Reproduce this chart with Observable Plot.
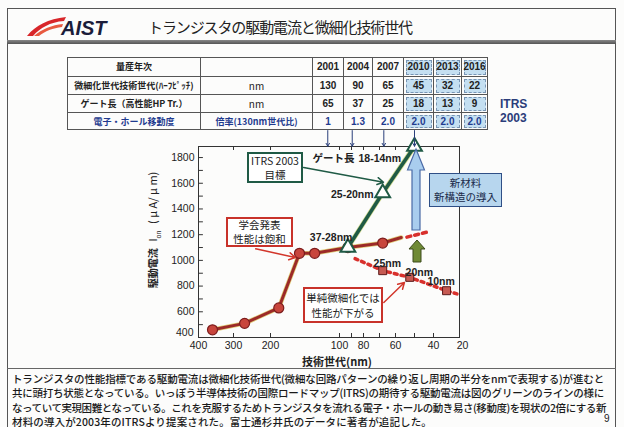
<!DOCTYPE html>
<html><head><meta charset="utf-8">
<script src="https://cdn.jsdelivr.net/npm/d3@7"></script>
<script src="https://cdn.jsdelivr.net/npm/@observablehq/plot@0.6"></script>
<style>
body{margin:0;background:#fcfcfb;}
#page{position:relative;width:624px;height:427px;overflow:hidden;background:#fcfcfb;font-family:"Noto Sans CJK JP","Noto Sans",sans-serif;color:#222;}
.abs{position:absolute;}
.box{position:absolute;box-sizing:border-box;background:#fff;display:flex;align-items:center;justify-content:center;text-align:center;font-size:10.5px;line-height:14px;color:#222;}
.cell{position:absolute;box-sizing:border-box;border-left:1px solid #555;border-top:1px solid #555;display:flex;align-items:center;justify-content:center;white-space:nowrap;}
.cell span{display:inline-block;}
.shade{position:absolute;left:2px;top:2px;right:1px;bottom:1px;background:#c4dff1;border:1px dashed #7895b4;}
.num{font-family:"Liberation Sans",Arial,sans-serif;font-weight:bold;font-size:10px;position:relative;}
.lab{font-family:"Noto Sans CJK JP",sans-serif;font-weight:bold;font-size:9px;}
.cap{position:absolute;left:12px;white-space:nowrap;font-size:10.5px;line-height:11px;color:#1a1a1a;font-weight:500;}
</style></head>
<body><div id="page">
  <div class="abs" style="left:7px;top:8px;width:607px;height:418px;border:1.5px solid #555;"></div>
  <div class="abs" style="left:7px;top:40px;width:609px;height:4px;background:linear-gradient(#888,#555);"></div>
  <svg class="abs" style="left:0;top:0" width="130" height="45">
    <path d="M27,36 C36,25 48,19 66,17 L64,21 C50,22 40,28 33,36 Z" fill="#d8262a"/>
    <path d="M34,36 C42,29 52,25 63,24 L62,27 C53,28 45,31 39,36 Z" fill="#e85a40"/>
    <text x="61" y="35" font-family="Liberation Sans, Arial, sans-serif" font-weight="bold" font-style="italic" font-size="20" fill="#1b1d3a">AIST</text>
  </svg>
  <div id="title" class="abs" style="left:148px;top:16px;font-size:15px;white-space:nowrap;color:#222;">トランジスタの駆動電流と微細化技術世代</div>
  <div id="table"></div>
  <div class="abs" style="left:500px;top:97px;font-family:'Liberation Sans',Arial,sans-serif;font-weight:bold;font-size:12px;line-height:14px;color:#2b3d7a;">ITRS<br>2003</div>
  <div id="plot" class="abs" style="left:0;top:0;"></div>
  <svg class="abs" style="left:0;top:0" width="624" height="427">
    <polygon points="412,230 412,170 407.5,170 416,149 424.5,170 420,170 420,230" fill="#a9cdee" stroke="#4a6aa6" stroke-width="1.2"/>
    <polygon points="413,262 413,249 409,249 417,240 425,249 421,249 421,262" fill="#6f8a35" stroke="#3c4b1c" stroke-width="1"/>
  </svg>
  <div class="box" style="left:247px;top:152px;width:56px;height:31px;border:2px solid #1f5a45;">ITRS 2003<br>目標</div>
  <div class="box" style="left:226px;top:217px;width:67px;height:30px;border:2px solid #c8322a;">学会発表<br>性能は飽和</div>
  <div class="box" style="left:303px;top:287px;width:80px;height:36px;border:2px solid #c8322a;line-height:15px;">単純微細化では<br>性能が下がる</div>
  <div class="box" style="left:429px;top:173px;width:73px;height:34px;border:1.5px solid #2f4f86;background:#b7d6ee;color:#1a2a4a;">新材料<br>新構造の導入</div>
  <div class="abs" style="left:153px;top:230px;transform:translate(-50%,-50%) rotate(-90deg);white-space:nowrap;font-size:10px;color:#222;"><b>駆動電流</b>&nbsp;&nbsp;&nbsp;<span style="font-family:'Liberation Sans',Arial;font-size:11px">I<sub style="font-size:7px">on</sub></span>&nbsp;&nbsp;&nbsp;<span style="font-size:11px">( μ A/ μ m)</span></div>
  <div class="abs" style="left:337px;top:361px;transform:translate(-50%,-50%);white-space:nowrap;font-size:11px;font-weight:bold;color:#222;">技術世代(nm)</div>
  <div class="abs" style="left:7px;top:368px;width:609px;height:1px;background:#666;"></div>
  <div class="cap fit" data-w="592" style="top:372.5px;">トランジスタの性能指標である駆動電流は微細化技術世代(微細な回路パターンの繰り返し周期の半分をnmで表現する)が進むと</div>
  <div class="cap fit" data-w="592" style="top:387px;">共に頭打ち状態となっている。いっぽう半導体技術の国際ロードマップ(ITRS)の期待する駆動電流は図のグリーンのラインの様に</div>
  <div class="cap fit" data-w="594" style="top:401.5px;">なっていて実現困難となっている。これを克服するためトランジスタを流れる電子・ホールの動き易さ(移動度)を現状の2倍にする新</div>
  <div class="cap fit" data-w="420" style="top:415.5px;">材料の導入が2003年のITRSより提案された。富士通杉井氏のデータに著者が追記した。</div>
  <div class="abs" style="left:604px;top:413px;font-size:10px;line-height:11px;font-family:'Liberation Sans',Arial;">9</div>
</div>
<script>
// ---- table data (ITRS 2003) ----
const years = ["2001","2004","2007","2010","2013","2016"];
const halfPitch = ["130","90","65","45","32","22"];
const gateLength = ["65","37","25","18","13","9"];
const mobility = ["1","1.3","2.0","2.0","2.0","2.0"];
const rowLabels = ["量産年次","微細化世代技術世代(ﾊｰﾌﾋﾟｯﾁ)","ゲート長（高性能HP Tr.）","電子・ホール移動度"];
const rowUnits = ["","nm","nm","倍率(130nm世代比)"];

// ---- chart data (node in nm, Ion in uA/um) ----
const measNode = [360, 270, 188, 158, 136, 93, 68];
const measIon = [460, 510, 630, 1055, 1055, 1100, 1135];
const measExtNode = [68, 57];
const measExtIon = [1135, 1178];
const measDotNode = [54, 42];
const measDotIon = [1181, 1225];
const itrsNode = [93, 68, 50];
const itrsIon = [1100, 1524, 1886];
const scaledNode = [68, 52.5, 31];
const scaledIon = [920, 868, 764];
const scaledLineNode = [87, 68, 52.5, 31, 23.7];
const scaledLineIon = [1014, 920, 868, 764, 739];
const tableArrowNode = [117, 89.4, 67.3, 50];

const xTickValues = [400, 300, 200, 100, 80, 60, 40, 20];
const xMinorTicks = [300, 200, 100, 90, 80, 70, 60, 50, 40];
const yTickValues = [400, 600, 800, 1000, 1200, 1400, 1600, 1800];
const yMinorTicks = [500, 600, 700, 800, 900, 1000, 1100, 1200, 1300, 1400, 1500, 1600, 1700, 1800];

// in-plot labels (data coordinates)
const labelText = ["ゲート長", "18-14nm", "25-20nm", "37-28nm", "25nm", "20nm", "10nm"];
const labelNode = [139, 84.2, 73.7, 89.2, 73.7, 54.7, 43.2];
const labelIon = [1793, 1793, 1513, 1180, 976, 908, 838];
const labelAnchor = ["start", "start", "end", "end", "start", "start", "start"];

// annotation arrows (data coordinates)
const annoFromNode = [152, 240, 67.3];
const annoFromIon = [1723, 1090, 672];
const annoToNode = [67.5, 164, 55.3];
const annoToIon = [1608, 1022, 828];
const annoColor = ["#1f5a45", "#d2362b", "#d2362b"];

// ---- build table ----
const colEdges = [67, 200, 312, 343, 372, 403, 433, 461, 488];
const rowEdges = [57, 75.5, 93.5, 112, 130];
const tbl = document.getElementById("table");
const rowsData = [years, halfPitch, gateLength, mobility];
for (let r = 0; r < 4; r++) {
  for (let c = 0; c < 8; c++) {
    const d = document.createElement("div");
    d.className = "cell";
    d.style.left = colEdges[c] + "px";
    d.style.top = rowEdges[r] + "px";
    d.style.width = (colEdges[c+1] - colEdges[c]) + "px";
    d.style.height = (rowEdges[r+1] - rowEdges[r]) + "px";
    if (c === 7) d.style.borderRight = "1px solid #555";
    if (r === 3) d.style.borderBottom = "1px solid #555";
    const color = r === 3 ? "#1f3b8f" : "#222";
    if (c >= 5) { const s = document.createElement("div"); s.className = "shade"; d.appendChild(s); }
    const sp = document.createElement("span");
    if (c === 0) { sp.className = "lab fitscale"; sp.dataset.w = 128; sp.textContent = rowLabels[r]; }
    else if (c === 1) { sp.className = "lab"; sp.style.fontWeight = r === 3 ? "bold" : "normal"; sp.style.fontSize = r === 3 ? "9px" : "10px"; sp.textContent = rowUnits[r]; }
    else { sp.className = "num"; sp.textContent = rowsData[r][c-2]; }
    sp.style.color = color;
    d.appendChild(sp);
    tbl.appendChild(d);
  }
}

// ---- chart ----
const meas = measNode.map((x, i) => ({x, y: measIon[i]}));
const measExt = measExtNode.map((x, i) => ({x, y: measExtIon[i]}));
const measDot = measDotNode.map((x, i) => ({x, y: measDotIon[i]}));
const itrs = itrsNode.map((x, i) => ({x, y: itrsIon[i]}));
const scaled = scaledNode.map((x, i) => ({x, y: scaledIon[i]}));
const scaledLine = scaledLineNode.map((x, i) => ({x, y: scaledLineIon[i]}));
const labels = labelText.map((t, i) => ({t, x: labelNode[i], y: labelIon[i], a: labelAnchor[i]}));
const anno = annoFromNode.map((x1, i) => ({x1, y1: annoFromIon[i], x2: annoToNode[i], y2: annoToIon[i], c: annoColor[i]}));
const tArrows = tableArrowNode.map(x => ({x}));
const labelStyle = {x: "x", y: "y", text: "t", fontSize: 10.5, fontWeight: "bold", fill: "#222", fontFamily: "Liberation Sans, Noto Sans CJK JP, sans-serif"};

const plot = Plot.plot({
  width: 624, height: 427,
  marginLeft: 198, marginRight: 165, marginTop: 146, marginBottom: 90,
  style: {background: "transparent", fontFamily: "Liberation Sans, Arial, sans-serif", fontSize: "10.5px", color: "#222", overflow: "visible"},
  x: {type: "linear", domain: xTickValues, range: [198, 233, 270, 339, 363, 395, 433, 462]},
  y: {domain: [400, 1886]},
  marks: [
    Plot.frame({stroke: "#333", strokeWidth: 1}),
    Plot.ruleX(xMinorTicks, {x: d => d, y1: 400, y2: 431, stroke: "#333"}),
    Plot.ruleX(xMinorTicks, {x: d => d, y1: 1886, y2: 1855, stroke: "#333"}),
    Plot.ruleY(yMinorTicks, {y: d => d, x1: 400, x2: 386, stroke: "#333"}),
    Plot.axisX({ticks: xTickValues, tickSize: 0, tickPadding: 4, label: null, fontSize: 10.5, tickFormat: d => String(d)}),
    Plot.axisY({ticks: yTickValues.slice(1), tickSize: 0, tickPadding: 4, label: null, fontSize: 10.5, tickFormat: d => String(d)}),
    Plot.axisY({ticks: yTickValues.slice(0, 1), tickSize: 0, tickPadding: 5, label: null, fontSize: 10.5, dy: -5, tickFormat: d => String(d)}),
    // measured (red)
    Plot.line(meas.concat(measExt), {x: "x", y: "y", stroke: "#e0cf7a", strokeWidth: 4.5}),
    Plot.line(meas.concat(measExt), {x: "x", y: "y", stroke: "#9c2a28", strokeWidth: 3}),
    Plot.line(measDot, {x: "x", y: "y", stroke: "#d8302c", strokeWidth: 3.5, strokeDasharray: "4,4"}),
    // simple scaling (dotted + squares)
    Plot.line(scaledLine, {x: "x", y: "y", stroke: "#d8302c", strokeWidth: 3.5, strokeDasharray: "3,4"}),
    Plot.dot(scaled, {x: "x", y: "y", symbol: "square", r: 4.5, fill: "#c65a52", stroke: "#5a1a1a", strokeWidth: 1}),
    // ITRS target (green)
    Plot.line(itrs, {x: "x", y: "y", stroke: "#d3dc92", strokeWidth: 5}),
    Plot.line(itrs, {x: "x", y: "y", stroke: "#1f5a45", strokeWidth: 3.5}),
    Plot.dot(meas, {x: "x", y: "y", r: 5, fill: "#c8453c", stroke: "#7b1d1d", strokeWidth: 1.2}),
    Plot.dot(itrs, {x: "x", y: "y", symbol: "triangle", r: 5.5, fill: "#fff", stroke: "#1f5a45", strokeWidth: 2}),
    // labels
    Plot.text(labels.filter(d => d.a === "start"), {...labelStyle, textAnchor: "start"}),
    Plot.text(labels.filter(d => d.a === "end"), {...labelStyle, textAnchor: "end"}),
    // annotation arrows
    Plot.arrow(anno, {x1: "x1", y1: "y1", x2: "x2", y2: "y2", stroke: "c", strokeWidth: 1.5, headLength: 7}),
    Plot.arrow(tArrows, {x1: "x", x2: "x", y1: 2010, y2: 1888, stroke: "#2a3f7a", strokeWidth: 1, headLength: 5})
  ]
});
document.getElementById("plot").appendChild(plot);

// fit text widths
document.querySelectorAll(".fit").forEach(el => {
  const w = el.getBoundingClientRect().width;
  const n = el.textContent.length;
  el.style.letterSpacing = ((+el.dataset.w - w) / n) + "px";
});
document.querySelectorAll(".fitscale").forEach(el => {
  const w = el.getBoundingClientRect().width;
  const t = +el.dataset.w;
  if (w > t) el.style.transform = `scaleX(${t / w})`;
});
(function(){
  const el = document.getElementById("title");
  const w = el.getBoundingClientRect().width;
  el.style.letterSpacing = ((264 - w) / el.textContent.length) + "px";
})();
</script>
</body></html>
